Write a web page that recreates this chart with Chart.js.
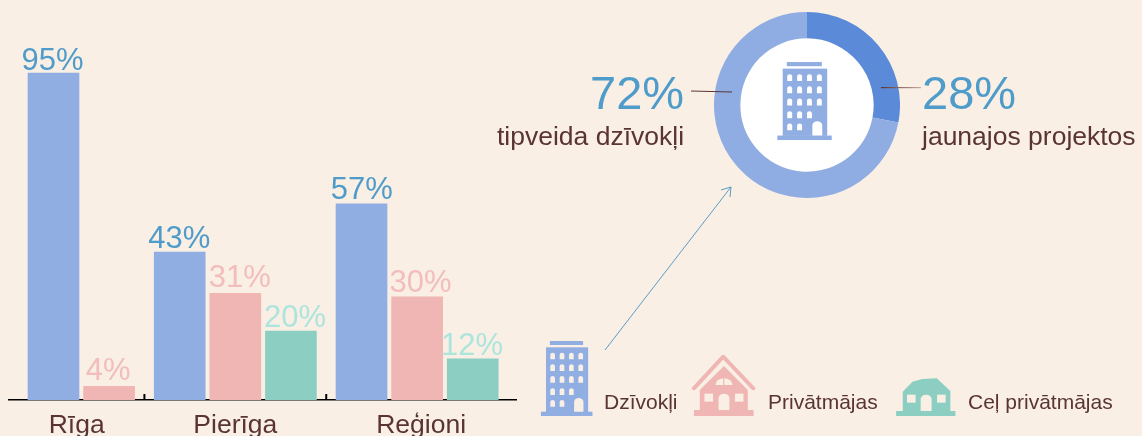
<!DOCTYPE html>
<html>
<head>
<meta charset="utf-8">
<script src="https://cdn.jsdelivr.net/npm/chart.js@4"></script>
<style>
  html, body { margin: 0; padding: 0; background: #f9efe5; overflow: hidden; }
  #stage { position: relative; width: 1142px; height: 436px; font-family: "Liberation Sans", Arial, sans-serif; color: #5a3432; }
  #barChart { position: absolute; left: 0; top: 0; }
  #donutChart { position: absolute; left: 714px; top: 12px; }
  #art { position: absolute; left: 0; top: 0; }
  .txt { position: absolute; line-height: 1; white-space: nowrap; }
  .big { font-size: 47px; color: #4f9bc9; top: 69px; }
  .sub { font-size: 26.5px; top: 122.5px; }
  .leg { font-size: 21px; top: 391px; }
</style>
</head>
<body>
<div id="stage">
  <canvas id="barChart" width="530" height="436"></canvas>
  <canvas id="donutChart" width="186" height="186"></canvas>
  <svg id="art" width="1142" height="436">
    <defs>
      <linearGradient id="fade" x1="0" x2="1" y1="0" y2="0">
        <stop offset="0" stop-color="#5a3432"/>
        <stop offset="1" stop-color="#c9aaa3"/>
      </linearGradient>
    </defs>
    <line x1="691" y1="91" x2="732" y2="92" stroke="#5a3432" stroke-width="1"/>
    <rect x="881" y="87" width="40" height="1.2" fill="url(#fade)"/>
    <g fill="none" stroke="#5b9cc4" stroke-width="1">
      <line x1="605" y1="350" x2="731" y2="187"/>
      <polyline points="721,190 731,187 730,197"/>
    </g>
    <g id="buildingLegend" transform="translate(530,330) scale(0.3903,0.3333)"></g>
    <g id="buildingCenter" transform="translate(765.8,50.6) scale(0.412,0.3467)"></g>
    <g transform="translate(530,330) scale(0.3903,0.3333)">
      <!-- pink house -->
      <polygon points="497,108 435,180 435,240 420,240 420,258 573,258 573,240 558,240 558,180" fill="#f0b6b4"/>
      <polyline points="420,175 495,80 572,175" fill="none" stroke="#f0b6b4" stroke-width="11" stroke-linecap="round" stroke-linejoin="round"/>
      <path d="M475,165 a22,20 0 0 1 44,0 z" fill="#f9efe5"/>
      <rect x="495" y="143" width="3" height="23" fill="#f0b6b4"/>
      <rect x="447" y="191" width="22" height="24" fill="#f9efe5"/>
      <rect x="525" y="191" width="22" height="24" fill="#f9efe5"/>
      <path d="M483,240 v-36 a14,13 0 0 1 28,0 v36 z" fill="#f9efe5"/>
      <!-- teal house -->
      <polygon points="955,185 980,155 1005,147 1042,145 1077,183 1077,243 1090,243 1090,258 938,258 938,243 955,243" fill="#8ccfc2"/>
      <rect x="966" y="194" width="22" height="24" fill="#f9efe5"/>
      <rect x="1043" y="194" width="22" height="24" fill="#f9efe5"/>
      <path d="M1001,243 v-36 a14,13 0 0 1 28,0 v36 z" fill="#f9efe5"/>
    </g>
  </svg>
  <div class="txt big" style="left:590px">72%</div>
  <div class="txt big" style="left:922px">28%</div>
  <div class="txt sub" style="left:497px">tipveida dzīvokļi</div>
  <div class="txt sub" style="left:922px">jaunajos projektos</div>
  <div class="txt leg" style="left:604px">Dzīvokļi</div>
  <div class="txt leg" style="left:768px">Privātmājas</div>
  <div class="txt leg" style="left:968px">Ceļ privātmājas</div>
</div>

<script>
const categories = ["Rīga", "Pierīga", "Reģioni"];
const seriesNames = ["Dzīvokļi", "Privātmājas", "Ceļ privātmājas"];
const dzivokli = [95, 43, 57];
const privatmajas = [4, 31, 30];
const celPrivatmajas = [null, 20, 12];
const donutLabels = ["jaunajos projektos", "tipveida dzīvokļi"];
const donutValues = [28, 72];

const barColors = ["#91aee3", "#f0b6b4", "#8ccfc2"];
const labelColors = ["#4f9bc9", "#f2bdba", "#ade5dc"];
//hand placed value labels, they are not centred on the bars in the original
const labelShift = [
  [[-1, -3], [-0.5, -4.5], [0.3, -4.5]],
  [[-1, -6], [4.5, -6.7], [3.5, -5.3]],
  [[4, -4.7], [-0.8, -4]],
];

//every group only takes as many slots as it has bars
const allSeries = [dzivokli, privatmajas, celPrivatmajas];
const groupGap = 0.27;
let slot = 0;
const points = allSeries.map(() => []);
const separators = [];
categories.forEach((cat, g) => {
  allSeries.forEach((values, s) => {
    if (values[g] !== null) {
      points[s].push({ x: slot, y: values[g] });
      slot += 1;
    }
  });
  if (g < categories.length - 1) separators.push(slot - 0.5 + groupGap / 2);
  slot += groupGap;
});

const xMin = -0.8004;
const xMax = 8.3182;
const edges = [xMin, ...separators, xMax];
const labelPositions = categories.map((c, g) => (edges[g] + edges[g + 1]) / 2);

//value labels above the bars + small ticks between the groups
const barExtras = {
  id: "barExtras",
  afterDatasetsDraw(chart) {
    const c = chart.ctx;
    c.save();
    c.font = '31px "Liberation Sans"';
    c.textAlign = "center";
    c.textBaseline = "alphabetic";
    chart.data.datasets.forEach((ds, i) => {
      c.fillStyle = labelColors[i];
      chart.getDatasetMeta(i).data.forEach((bar, j) => {
        const [dx, dy] = labelShift[i][j];
        c.fillText(ds.data[j].y + "%", bar.x + dx, bar.y + dy);
      });
    });
    const bottom = chart.chartArea.bottom;
    c.strokeStyle = "#000";
    c.lineWidth = 2;
    separators.forEach((s) => {
      const x = chart.scales.x.getPixelForValue(s);
      c.beginPath();
      c.moveTo(x, bottom - 6);
      c.lineTo(x, bottom);
      c.stroke();
    });
    c.restore();
  },
};

new Chart(document.getElementById("barChart"), {
  type: "bar",
  data: {
    datasets: seriesNames.map((name, i) => ({
      label: name,
      data: points[i],
      backgroundColor: barColors[i],
      barThickness: 51,
      grouped: false,
    })),
  },
  options: {
    responsive: false,
    animation: false,
    layout: { padding: { left: 9, right: 14, top: 56, bottom: 0 } },
    plugins: { legend: { display: false }, tooltip: { enabled: false } },
    scales: {
      x: {
        type: "linear",
        offset: false,
        min: xMin,
        max: xMax,
        grid: { display: false, offset: false },
        border: { display: true, color: "#000", width: 1.5 },
        afterBuildTicks(scale) {
          scale.ticks = labelPositions.map((v) => ({ value: v }));
        },
        afterFit(scale) {
          scale.height = 36;
        },
        ticks: {
          autoSkip: false,
          maxRotation: 0,
          padding: 2,
          color: "#5a3432",
          font: { family: "Liberation Sans", size: 26.5 },
          callback(value, i) {
            return categories[i];
          },
        },
      },
      y: { display: false, min: 0, max: 100 },
    },
  },
  plugins: [barExtras],
});

//white disc in the hole of the doughnut
const whiteHole = {
  id: "whiteHole",
  beforeDatasetsDraw(chart) {
    const arc = chart.getDatasetMeta(0).data[0];
    const c = chart.ctx;
    c.save();
    c.fillStyle = "#fff";
    c.beginPath();
    c.arc(arc.x, arc.y, arc.innerRadius, 0, Math.PI * 2);
    c.fill();
    c.restore();
  },
};

new Chart(document.getElementById("donutChart"), {
  type: "doughnut",
  data: {
    labels: donutLabels,
    datasets: [
      {
        data: donutValues,
        backgroundColor: ["#5b8bd8", "#8fade3"],
        borderWidth: 0,
      },
    ],
  },
  options: {
    responsive: false,
    animation: false,
    cutout: "71.7%",
    plugins: { legend: { display: false }, tooltip: { enabled: false } },
  },
  plugins: [whiteHole],
});

//building icon, used twice
function drawBuilding(id, holeColor) {
  const g = document.getElementById(id);
  const ns = "http://www.w3.org/2000/svg";
  const add = (x, y, w, h, fill) => {
    const r = document.createElementNS(ns, "rect");
    r.setAttribute("x", x);
    r.setAttribute("y", y);
    r.setAttribute("width", w);
    r.setAttribute("height", h);
    r.setAttribute("fill", fill);
    g.appendChild(r);
  };
  //window or door with an arched top
  const arch = (x, y, w, h) => {
    const p = document.createElementNS(ns, "path");
    const r = w / 2;
    p.setAttribute("d", `M${x},${y + h} v${-(h - r)} a${r},${r} 0 0 1 ${w},0 v${h - r} z`);
    p.setAttribute("fill", holeColor);
    g.appendChild(p);
  };
  add(51, 33, 85, 12, "#91aee3");
  add(41, 52, 108, 194, "#91aee3");
  add(28, 245, 132, 13, "#91aee3");
  const rowY = [68, 103, 138, 175, 210];
  const colX = [52, 76, 100, 124];
  const rowCount = [4, 4, 4, 3, 2];
  rowY.forEach((y, r) => {
    colX.slice(0, rowCount[r]).forEach((x) => arch(x, y, 12, 20));
  });
  arch(113, 204, 24, 41);
}
drawBuilding("buildingLegend", "#f9efe5");
drawBuilding("buildingCenter", "#ffffff");
</script>
</body>
</html>
